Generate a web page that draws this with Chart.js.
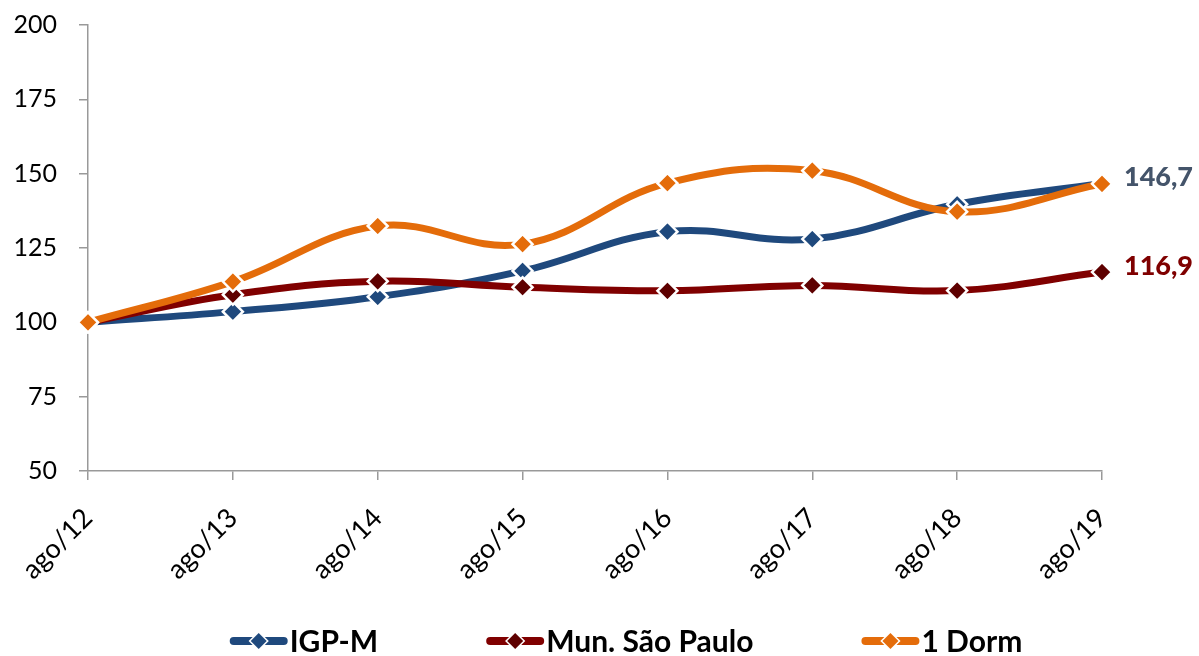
<!DOCTYPE html>
<html>
<head>
<meta charset="utf-8">
<script src="https://cdn.jsdelivr.net/npm/chart.js@4.4.1/dist/chart.umd.min.js"></script>
<style>
  html, body { margin: 0; padding: 0; background: #fff; }
  #wrap { width: 1199px; height: 656px; position: relative; }
</style>
</head>
<body>
<div id="wrap"><canvas id="c"></canvas></div>
<script>
const categories = ['ago/12', 'ago/13', 'ago/14', 'ago/15', 'ago/16', 'ago/17', 'ago/18', 'ago/19'];
const igpm = [100, 103.6, 108.6, 117.3, 130.5, 128.0, 139.7, 146.7];
const munSP = [100, 109.3, 113.8, 111.8, 110.6, 112.4, 110.7, 116.9];
const dorm1 = [100, 113.7, 132.4, 126.3, 146.8, 151.0, 137.2, 146.6];
const yTicks = [50, 75, 100, 125, 150, 175, 200];
const endLabels = ['146,7', '116,9'];

const FONT = 'Lato, "Open Sans", sans-serif';

const endLabelPlugin = {
  id: 'endLabels',
  afterDatasetsDraw(chart) {
    const ctx = chart.ctx;
    const specs = [
      { ds: 0, text: endLabels[0], color: '#44546A' },
      { ds: 1, text: endLabels[1], color: '#7F0000' }
    ];
    ctx.save();
    ctx.font = '900 27px ' + FONT;
    ctx.textAlign = 'left';
    ctx.textBaseline = 'middle';
    specs.forEach(s => {
      const meta = chart.getDatasetMeta(s.ds);
      const pt = meta.data[meta.data.length - 1];
      ctx.fillStyle = s.color;
      ctx.fillText(s.text, pt.x + 22, pt.y - 6);
    });
    ctx.restore();
  }
};

const legendPlugin = {
  id: 'customLegend',
  afterDraw(chart) {
    const ctx = chart.ctx;
    ctx.save();
    ctx.font = '700 30px ' + FONT;
    ctx.textBaseline = 'middle';
    ctx.textAlign = 'left';
    const sw = 58, gapText = 2, gapItem = 108;
    const items = chart.data.datasets.map(d => ({
      text: d.label, color: d.borderColor, mark: d.pointBackgroundColor,
      w: sw + gapText + ctx.measureText(d.label).width
    }));
    const total = items.reduce((a, b) => a + b.w, 0) + gapItem * (items.length - 1);
    let x = 626 - total / 2;
    const y = 641;
    items.forEach(it => {
      ctx.strokeStyle = it.color;
      ctx.lineWidth = 8;
      ctx.lineCap = 'round';
      ctx.beginPath();
      ctx.moveTo(x + 4, y);
      ctx.lineTo(x + sw - 4, y);
      ctx.stroke();
      const cx = x + sw / 2;
      ctx.beginPath();
      ctx.moveTo(cx, y - 8); ctx.lineTo(cx + 8, y); ctx.lineTo(cx, y + 8); ctx.lineTo(cx - 8, y); ctx.closePath();
      ctx.fillStyle = it.mark;
      ctx.strokeStyle = '#fff';
      ctx.lineWidth = 3;
      ctx.stroke();
      ctx.fill();
      ctx.fillStyle = '#000';
      ctx.fillText(it.text, x + sw + gapText, y + 1);
      x += it.w + gapItem;
    });
    ctx.restore();
  }
};

function ds(label, data, color, mark, order) {
  return {
    label, data, order,
    borderColor: color,
    backgroundColor: color,
    borderWidth: 7,
    tension: 0.4,
    fill: false,
    pointStyle: 'rectRot',
    pointRadius: 10,
    pointHoverRadius: 10,
    pointBackgroundColor: mark,
    pointBorderColor: '#ffffff',
    pointBorderWidth: 2.5,
    clip: false
  };
}

function noPad(s) {
  s.paddingLeft = 0; s.paddingRight = 0; s.paddingTop = 0; s.paddingBottom = 0;
}

new Chart(document.getElementById('c'), {
  type: 'line',
  data: {
    labels: categories,
    datasets: [
      ds('IGP-M', igpm, '#1F497D', '#1F497D', 2),
      ds('Mun. São Paulo', munSP, '#800000', '#5E0000', 1),
      ds('1 Dorm', dorm1, '#E46C0A', '#E46C0A', 0)
    ]
  },
  options: {
    responsive: true,
    maintainAspectRatio: false,
    animation: false,
    layout: { padding: { left: 8, right: 0, top: 25, bottom: 55 } },
    plugins: {
      legend: { display: false },
      tooltip: { enabled: false }
    },
    scales: {
      x: {
        offset: false,
        afterFit(s) { s.height = 130; noPad(s); },
        grid: { display: true, drawOnChartArea: false, drawTicks: true, tickLength: 9, color: '#999', lineWidth: 1.5 },
        border: { display: true, color: '#999', width: 1.5 },
        ticks: { color: '#000', font: { family: FONT, size: 27 }, minRotation: 45, maxRotation: 45, padding: 22, autoSkip: false }
      },
      y: {
        min: 50, max: 200,
        afterFit(s) { s.width = 80; noPad(s); },
        afterBuildTicks(s) { s.ticks = yTicks.map(v => ({ value: v })); },
        grid: { display: true, drawOnChartArea: false, drawTicks: true, tickLength: 9, color: '#999', lineWidth: 1.5 },
        border: { display: true, color: '#999', width: 1.5 },
        ticks: { color: '#000', font: { family: FONT, size: 25 }, padding: 22 }
      },
      yR: {
        position: 'right',
        min: 50, max: 200,
        afterFit(s) { s.width = 97; noPad(s); },
        grid: { display: false, drawTicks: false },
        border: { display: false },
        ticks: { display: false }
      }
    }
  },
  plugins: [endLabelPlugin, legendPlugin]
});
</script>
</body>
</html>
